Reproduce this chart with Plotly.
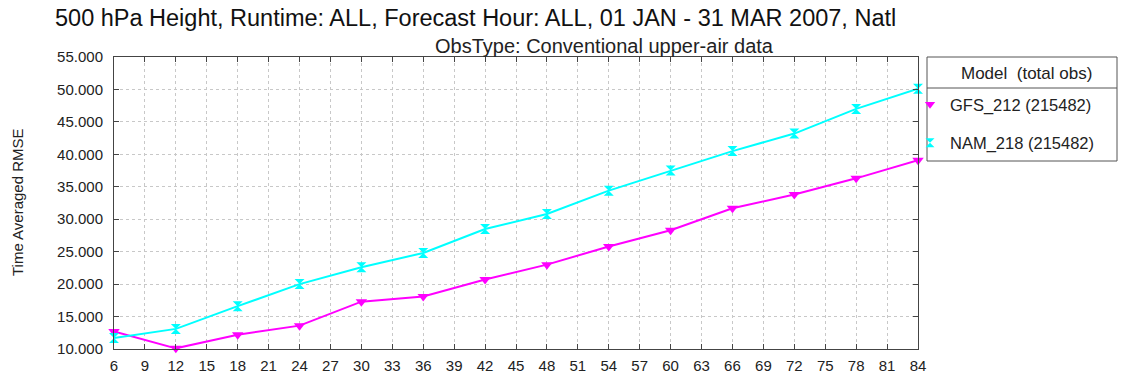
import plotly.graph_objects as go

forecast_hours = [6, 12, 18, 24, 30, 36, 42, 48, 54, 60, 66, 72, 78, 84]
gfs_rmse = [12.7, 10.1, 12.2, 13.6, 17.3, 18.1, 20.7, 23.0, 25.8, 28.3, 31.7, 33.8, 36.3, 39.1]
nam_rmse = [11.7, 13.1, 16.6, 20.0, 22.6, 24.8, 28.5, 30.8, 34.4, 37.5, 40.5, 43.2, 47.0, 50.1]
series_names = ["GFS_212 (215482)", "NAM_218 (215482)"]
x_ticks = list(range(6, 85, 3))
y_ticks = [10, 15, 20, 25, 30, 35, 40, 45, 50, 55]

W, H = 1128, 377
L, R, T, B = 114, 210, 57, 28
PW, PH = W - L - R, H - T - B
FONT = "Liberation Sans, Arial, sans-serif"

def px(x):
    return (x - L) / PW

def py(y):
    return 1 - (y - T) / PH

styles = [
    dict(color="#ff00ff", symbol="triangle-down"),
    dict(color="#00ffff", symbol="hourglass"),
]

fig = go.Figure()
for name, vals, st in zip(series_names, [gfs_rmse, nam_rmse], styles):
    fig.add_trace(go.Scatter(
        x=forecast_hours, y=vals, name=name, mode="lines+markers",
        line=dict(color=st["color"], width=2),
        marker=dict(symbol=st["symbol"], size=10, color=st["color"]),
        showlegend=False, cliponaxis=False,
    ))
# legend entries (markers only, as in the reference)
for i, (name, st) in enumerate(zip(series_names, styles)):
    fig.add_trace(go.Scatter(
        x=[None], y=[None], name=name, mode="markers",
        marker=dict(symbol=st["symbol"], size=9, color=st["color"]),
        legendgroup=f"g{i}", showlegend=True,
    ))

axis_common = dict(
    showline=True, linecolor="#444", linewidth=1, mirror="ticks",
    ticks="inside", ticklen=5, tickcolor="#444",
    showgrid=True, gridcolor="#c8c8c8", griddash="dot", gridwidth=1,
    zeroline=False, automargin=False,
    tickfont=dict(family=FONT, size=15, color="#222"),
)

fig.update_layout(
    width=W, height=H,
    margin=dict(l=L, r=R, t=T, b=B, autoexpand=False),
    paper_bgcolor="white", plot_bgcolor="white",
    font=dict(family=FONT, color="#222"),
    xaxis=dict(range=[6, 84], tickvals=x_ticks, ticklabelstandoff=3, **axis_common),
    yaxis=dict(range=[10, 55], tickvals=y_ticks, tickformat=".3f", ticklabelstandoff=7,
               **axis_common),
    showlegend=True,
    legend=dict(
        xref="container", yref="container",
        x=910 / W, xanchor="left",
        y=1 - 87 / H, yanchor="top",
        bgcolor="rgba(0,0,0,0)", borderwidth=0,
        font=dict(family=FONT, size=16.5, color="#222"),
        tracegroupgap=14,
    ),
)

# legend frame and header
fig.add_shape(type="rect", xref="paper", yref="paper",
              x0=px(927), x1=px(1117), y0=py(161), y1=1,
              line=dict(color="#555", width=1))
fig.add_shape(type="line", xref="paper", yref="paper",
              x0=px(927), x1=px(1117), y0=py(88), y1=py(88),
              line=dict(color="#555", width=1))
fig.add_annotation(text="Model  (total obs)", xref="paper", yref="paper",
                   x=px(1026), y=py(73), xanchor="center", yanchor="middle", showarrow=False,
                   font=dict(family=FONT, size=17, color="#222"))

# y-axis title
fig.add_annotation(text="Time Averaged RMSE", xref="paper", yref="paper",
                   x=px(17), y=py(202), xanchor="center", yanchor="middle", showarrow=False,
                   textangle=-90, font=dict(family=FONT, size=15, color="#222"))

# titles
fig.add_annotation(text="500 hPa Height, Runtime: ALL, Forecast Hour: ALL, 01 JAN - 31 MAR 2007, Natl",
                   xref="paper", yref="paper", x=px(53), y=py(18),
                   xanchor="left", yanchor="middle", showarrow=False,
                   font=dict(family=FONT, size=23.5, color="#111"))
fig.add_annotation(text="ObsType: Conventional upper-air data",
                   xref="paper", yref="paper", x=px(604), y=py(46),
                   xanchor="center", yanchor="middle", showarrow=False,
                   font=dict(family=FONT, size=20, color="#222"))

fig.write_html("out.html")
